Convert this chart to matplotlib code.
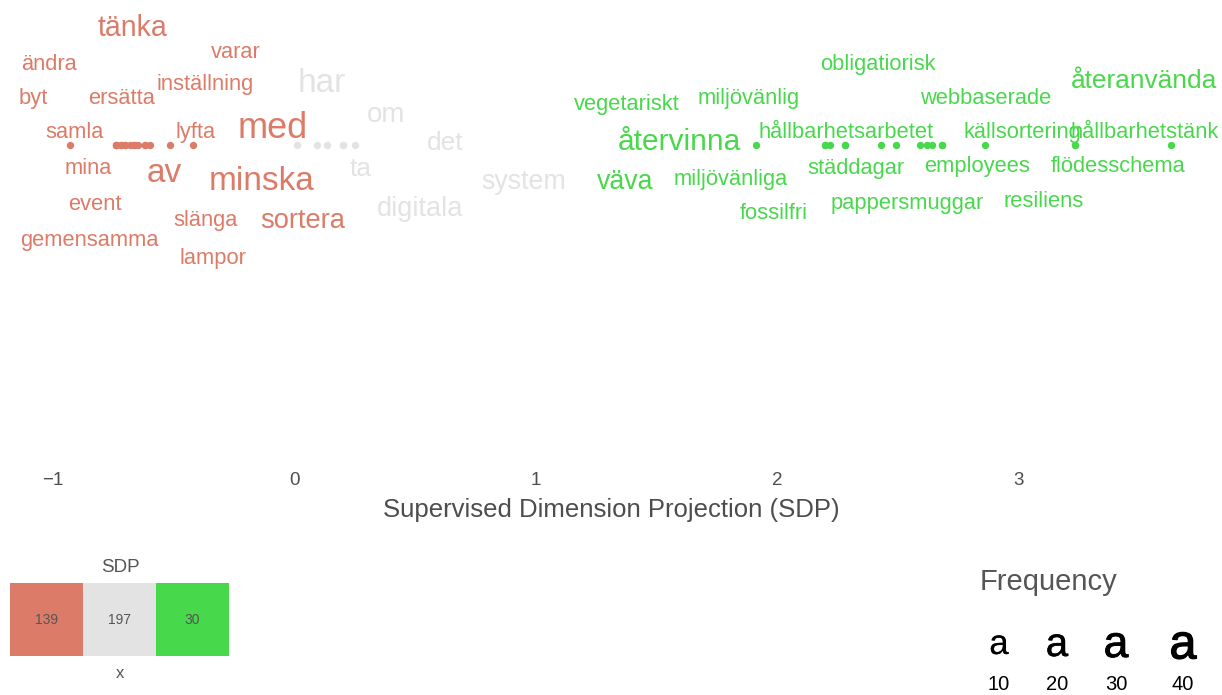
import matplotlib.pyplot as plt
import matplotlib.patheffects as pe
import numpy as np

plt.rcParams['font.family'] = ['Liberation Sans', 'DejaVu Sans']

# words shown in the plot, their SDP value and frequency
red_words = ['tänka', 'ändra', 'varar', 'byt', 'ersätta', 'inställning', 'samla', 'lyfta',
             'med', 'mina', 'av', 'minska', 'event', 'slänga', 'sortera', 'gemensamma', 'lampor']
red_sdp = [-0.74, -0.72, -0.70, -0.74, -0.70, -0.67, -0.93, -0.42,
           -0.60, -0.72, -0.515, -0.62, -0.68, -0.65, -0.62, -0.74, -0.66]
red_freq = [22, 7, 7, 7, 7, 7, 7, 7, 39, 7, 33, 33, 7, 7, 19, 7, 7]

gray_words = ['har', 'om', 'det', 'ta', 'system', 'digitala']
gray_sdp = [0.01, 0.25, 0.20, 0.135, 0.093, 0.20]
gray_freq = [33, 20, 17, 17, 18, 19]

green_words = ['återvinna', 'vegetariskt', 'miljövänlig', 'väva', 'miljövänliga',
               'hållbarhetsarbetet', 'fossilfri', 'städdagar', 'obligatiorisk', 'pappersmuggar',
               'employees', 'webbaserade', 'källsortering', 'resiliens', 'flödesschema',
               'hållbarhetstänk', 'återanvända']
green_sdp = [1.91, 2.197, 2.217, 2.197, 2.28, 2.43, 2.28, 2.49, 2.59, 2.62,
             2.64, 2.68, 2.86, 2.68, 3.23, 3.63, 3.23]
green_freq = [25, 7, 7, 18, 7, 7, 7, 7, 7, 7, 7, 7, 7, 7, 7, 7, 17]

legend_counts = [139, 197, 30]
freq_breaks = [10, 20, 30, 40]
x_ticks = [-1, 0, 1, 2, 3]

# label layout (pixel centres, repelled positions)
red_pos = [(132, 25), (49, 62), (236, 50), (33, 96), (122, 96), (205, 82), (75, 130), (196, 130),
           (273, 125), (88, 166), (164, 170), (262, 178), (95, 202), (206, 218), (303, 218),
           (89, 238), (213, 256)]
gray_pos = [(322, 80), (386, 112), (445, 140), (361, 167), (524, 179), (420, 206)]
green_pos = [(679, 139), (627, 102), (749, 96), (625, 179), (731, 177), (846, 130), (774, 211),
             (856, 166), (878, 62), (907, 201), (977, 164), (986, 96), (1022, 130), (1044, 199),
             (1118, 164), (1145, 130), (1144, 78)]

RED, GRAY, GREEN = '#DC7B67', '#E3E3E3', '#47D84B'
W, H = 1222, 695


def size_of(f):
    return 13.5 + 0.32 * f


fig = plt.figure(figsize=(W / 100, H / 100), dpi=100)
ax = fig.add_axes([0, 1 - 465 / H, 1, 465 / H])
ax.set_xlim(-294.5 / 241.5, (W - 294.5) / 241.5)
ax.set_ylim(1 - 465 / 145, 1)

groups = [(red_words, red_sdp, red_freq, red_pos, RED),
          (gray_words, gray_sdp, gray_freq, gray_pos, GRAY),
          (green_words, green_sdp, green_freq, green_pos, GREEN)]

for words, sdp, freq, pos, col in groups:
    ax.scatter(sdp, np.zeros(len(sdp)), s=28, color=col, linewidths=0, zorder=3)
    for w, f, (px, py) in zip(words, freq, pos):
        fig.text(px / W, 1 - py / H, w, fontsize=size_of(f), color=col,
                 ha='center', va='center_baseline')

for s in ax.spines.values():
    s.set_visible(False)
ax.set_yticks([])
ax.set_xticks(x_ticks)
ax.tick_params(axis='x', length=0, labelsize=13.5, labelcolor='#4d4d4d', pad=5)
ax.set_xlabel('Supervised Dimension Projection (SDP)', fontsize=18.5, color='#4d4d4d', labelpad=6.5)

# SDP colour legend
lax = fig.add_axes([10 / W, 1 - 656 / H, 219 / W, 73 / H])
lax.bar(range(3), [1, 1, 1], width=1, color=[RED, GRAY, GREEN])
lax.set_xlim(-0.5, 2.5)
lax.set_ylim(0, 1)
lax.axis('off')
for i, c in enumerate(legend_counts):
    lax.text(i, 0.5, str(c), ha='center', va='center', fontsize=10, color='#555555')
fig.text(120 / W, 1 - 567 / H, 'SDP', ha='center', va='center', fontsize=13.5, color='#555555')
fig.text(120 / W, 1 - 673 / H, 'x', ha='center', va='center', fontsize=12, color='#555555')

# frequency legend
fig.text(1049 / W, 1 - 582 / H, 'Frequency', ha='center', va='center', fontsize=21, color='#555555')
a_x = [999, 1057, 1116, 1183]
a_size = [25, 29, 32, 35]
a_stroke = [0.01, 0.3, 0.6, 0.9]
for b, xx, sz, lw in zip(freq_breaks, a_x, a_size, a_stroke):
    fig.text(xx / W, 1 - 641 / H, 'a', ha='center', va='center_baseline', fontsize=sz,
             color='black', path_effects=[pe.withStroke(linewidth=lw, foreground='black')])
    fig.text(xx / W, 1 - 685 / H, str(b), ha='center', va='center', fontsize=14.5, color='black')

fig.savefig('out.png', dpi=100)
